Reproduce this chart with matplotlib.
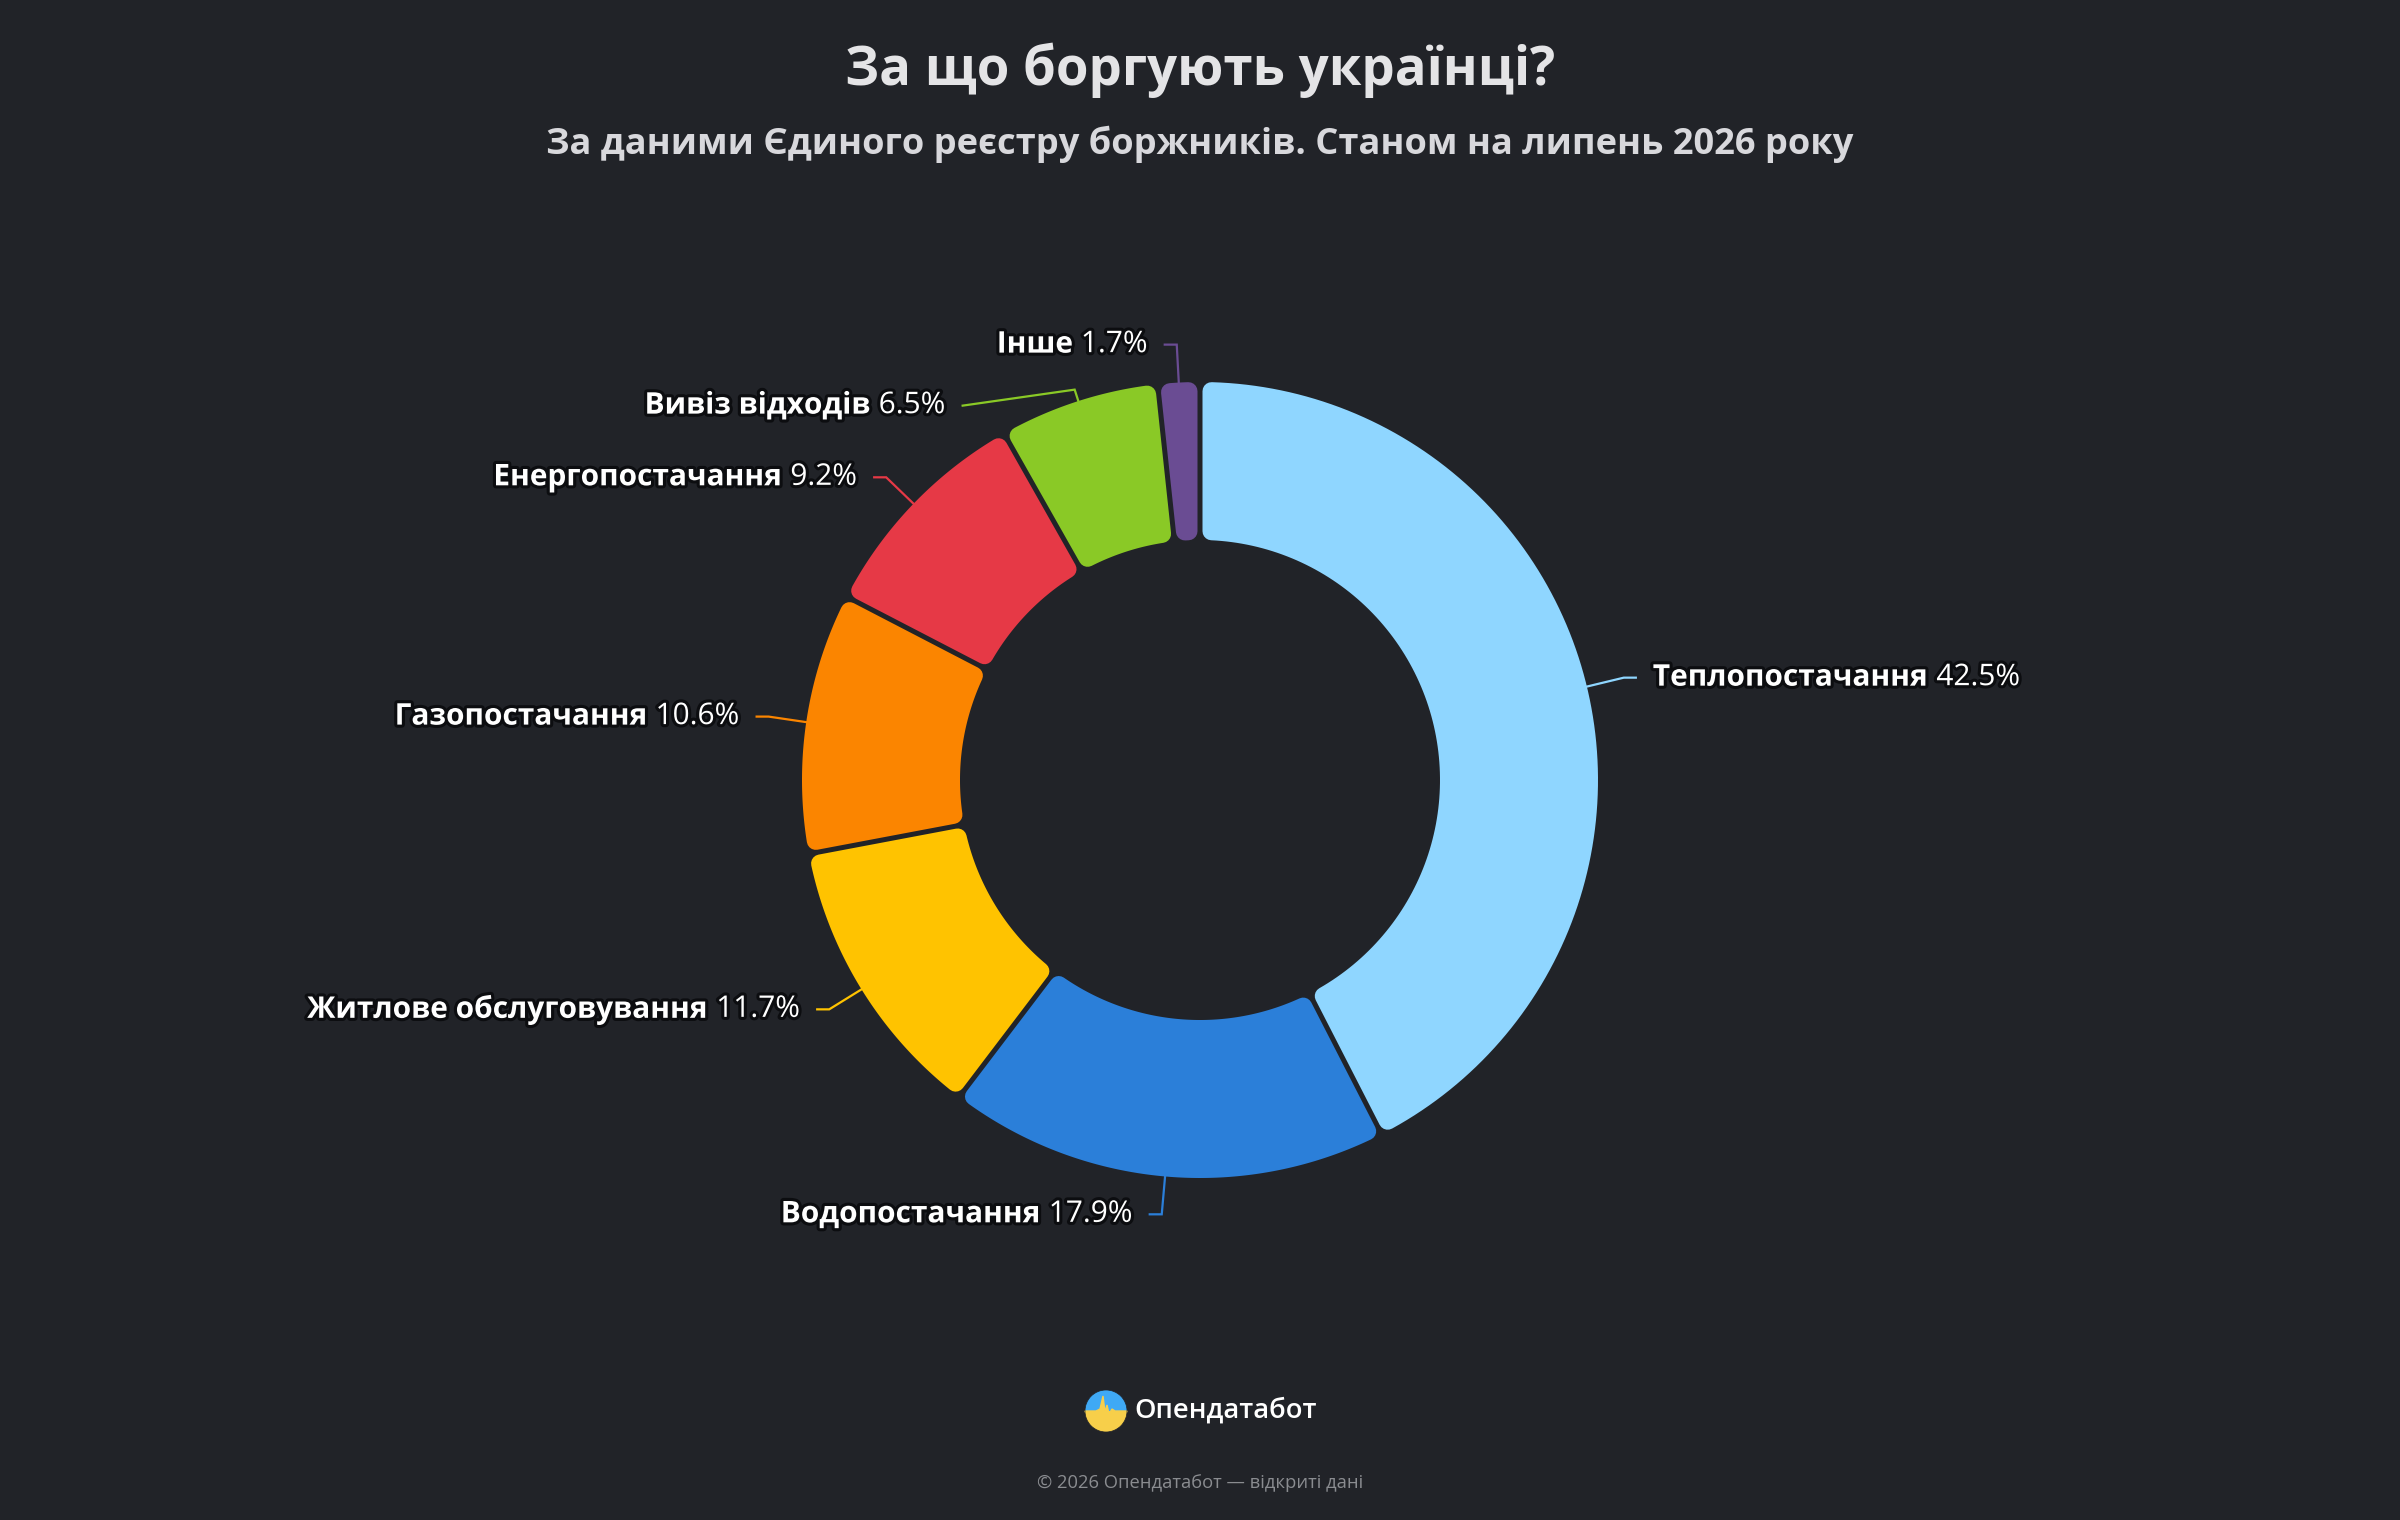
import matplotlib
matplotlib.use("Agg")
import matplotlib.pyplot as plt
from matplotlib.patches import Polygon, Wedge, Circle
import matplotlib.patheffects as pe
import numpy as np

# data
categories = ["Теплопостачання", "Водопостачання", "Житлове обслуговування",
              "Газопостачання", "Енергопостачання", "Вивіз відходів", "Інше"]
shares = [42.5, 17.9, 11.7, 10.6, 9.2, 6.5, 1.7]
colors = ["#8fd6ff", "#2b7fd9", "#ffc300", "#fb8500", "#e63946", "#8ac926", "#6a4c93"]

title = "За що боргують українці?"
subtitle = "За даними Єдиного реєстру боржників. Станом на липень 2026 року"
brand = "Опендатабот"
footer = "© 2026 Опендатабот — відкриті дані"

BG = "#212328"
W, H = 2400, 1520
cx, cy = 1200, 780
R_OUT, R_IN = 398, 240
GAP = 2.5      # half gap between slices, px
RC = 9         # corner radius, px

plt.rcParams['font.family'] = ['Open Sans', 'DejaVu Sans']

fig = plt.figure(figsize=(W / 100, H / 100), dpi=100, facecolor=BG)
ax = fig.add_axes([0, 0, 1, 1])
ax.set_xlim(0, W)
ax.set_ylim(H, 0)
ax.set_aspect('equal')
ax.axis('off')
ax.set_facecolor(BG)


def pt(a, rho):
    # a = degrees clockwise from top
    t = np.radians(a)
    return cx + rho * np.sin(t), cy - rho * np.cos(t)


def slice_poly(a1, a2):
    d = GAP + RC
    ro = R_OUT - RC
    ri = R_IN + RC
    do = np.degrees(np.arcsin(min(d / ro, 1)))
    di = np.degrees(np.arcsin(min(d / ri, 1)))
    s_o, e_o = a1 + do, a2 - do
    s_i, e_i = a1 + di, a2 - di
    if e_i < s_i:
        m = (a1 + a2) / 2
        s_i = e_i = m
    outer = [pt(a, ro) for a in np.linspace(s_o, e_o, 120)]
    inner = [pt(a, ri) for a in np.linspace(e_i, s_i, 120)]
    return outer + inner


total = sum(shares)
angles = np.cumsum([0] + shares) / total * 360

lw = 2 * RC * 72 / 100
for i, c in enumerate(colors):
    poly = Polygon(slice_poly(angles[i], angles[i + 1]), closed=True,
                   facecolor=c, edgecolor=c, linewidth=lw, joinstyle='round', zorder=2)
    ax.add_patch(poly)

# labels
renderer = fig.canvas.get_renderer()
L1 = [38, 38, 38, 38, 38, 12, 38]
L2 = [12, 12, 12, 12, 12, 112, 12]
label_y_shift = [0, 0, 0, 0, 0, 16, 0]
TXT_GAP = 17
stroke = [pe.withStroke(linewidth=4.5, foreground="#0c0d10")]
fs = 21.5

for i, (name, v) in enumerate(zip(categories, shares)):
    mid = (angles[i] + angles[i + 1]) / 2
    x0, y0 = pt(mid, R_OUT - 2)
    x1, y1 = pt(mid, R_OUT + L1[i])
    right = np.sin(np.radians(mid)) >= 0
    sgn = 1 if right else -1
    ly = y1 + label_y_shift[i]
    x2 = x1 + sgn * L2[i]
    ax.plot([x0, x1, x2], [y0, y1, ly], color=colors[i], lw=1.6, zorder=3,
            solid_joinstyle='miter')
    tx = x2 + sgn * TXT_GAP
    val = f" {v}%"
    if right:
        t1 = ax.text(tx, ly, name, fontsize=fs, fontweight='bold', color='white',
                     ha='left', va='center', path_effects=stroke, zorder=4)
        bb = t1.get_window_extent(renderer)
        ax.text(tx + bb.width, ly, val, fontsize=fs, color='white',
                ha='left', va='center', path_effects=stroke, zorder=4)
    else:
        t2 = ax.text(tx, ly, val, fontsize=fs, color='white',
                     ha='right', va='center', path_effects=stroke, zorder=4)
        bb = t2.get_window_extent(renderer)
        ax.text(tx - bb.width, ly, name, fontsize=fs, fontweight='bold', color='white',
                ha='right', va='center', path_effects=stroke, zorder=4)

# titles
ax.text(W / 2, 70, title, fontsize=38, fontweight='bold', color='#e4e4e6',
        ha='center', va='center')
ax.text(W / 2, 144, subtitle, fontsize=26.1, fontweight='bold', color='#d8d8dc',
        ha='center', va='center')

# logo
lx, ly0, lr = 1106, 1411, 21
ax.add_patch(Wedge((lx, ly0), lr, 180, 360, facecolor='#3fa9f5', edgecolor='none', zorder=2))
ax.add_patch(Wedge((lx, ly0), lr, 0, 180, facecolor='#f7cf4a', edgecolor='none', zorder=2))
spike_x = lx + np.array([-21, -10, -6, -3, -1, 1, 3, 6, 9, 12, 21])
spike_y = ly0 + np.array([0, 0, -2, -15, 1, -6, 3, -2, 0, 0, 0])
ax.fill(np.concatenate([spike_x, [lx + 21, lx - 21]]),
        np.concatenate([spike_y, [ly0 + 1, ly0 + 1]]), color='#f7cf4a', zorder=3)
ax.add_patch(Circle((lx, ly0), lr, facecolor='none', edgecolor=BG, lw=0.5, zorder=4))
ax.text(1134, 1411, brand, fontsize=19.7, fontweight='semibold', color='white',
        ha='left', va='center')
ax.text(W / 2, 1483, footer, fontsize=13.2, color='#8a8c90', ha='center', va='center')

fig.savefig("out.png", dpi=100, facecolor=BG)
